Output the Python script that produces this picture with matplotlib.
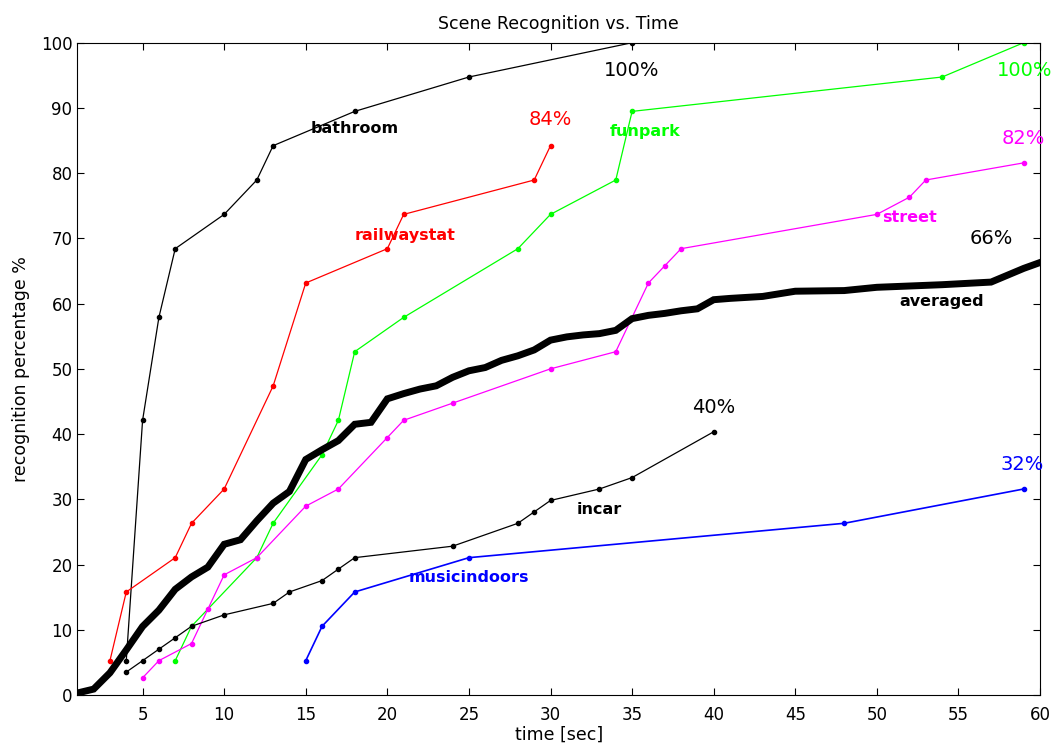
import matplotlib
matplotlib.use('Agg')
import matplotlib.pyplot as plt

plt.rcParams['font.family'] = ['DejaVu Sans']

# recognition percentage per scene class over listening time
bathroom_t = [4, 5, 6, 7, 10, 12, 13, 18, 25, 35]
bathroom_v = [5.26, 42.11, 57.89, 68.42, 73.68, 78.95, 84.21, 89.47, 94.74, 100.0]

railway_t = [3, 4, 7, 8, 10, 13, 15, 20, 21, 29, 30]
railway_v = [5.26, 15.79, 21.05, 26.32, 31.58, 47.37, 63.16, 68.42, 73.68, 78.95, 84.21]

funpark_t = [7, 8, 12, 13, 16, 17, 18, 21, 28, 30, 34, 35, 54, 59]
funpark_v = [5.26, 10.53, 21.05, 26.32, 36.84, 42.11, 52.63, 57.89, 68.42, 73.68,
             78.95, 89.47, 94.74, 100.0]

street_t = [5, 6, 8, 9, 10, 12, 15, 17, 20, 21, 24, 30, 34, 36, 37, 38, 50, 52, 53, 59]
street_v = [2.63, 5.26, 7.89, 13.16, 18.42, 21.05, 28.95, 31.58, 39.47, 42.11, 44.74,
            50.0, 52.63, 63.16, 65.79, 68.42, 73.68, 76.32, 78.95, 81.58]

incar_t = [4, 5, 6, 7, 8, 10, 13, 14, 16, 17, 18, 24, 28, 29, 30, 33, 35, 40]
incar_v = [3.51, 5.26, 7.02, 8.77, 10.53, 12.28, 14.04, 15.79, 17.54, 19.30, 21.05,
           22.81, 26.32, 28.07, 29.82, 31.58, 33.33, 40.35]

music_t = [15, 16, 18, 25, 48, 59]
music_v = [5.26, 10.53, 15.79, 21.05, 26.32, 31.58]

avg_t = [1, 2, 3, 4, 5, 6, 7, 8, 9, 10, 11, 12, 13, 14, 15, 16, 17, 18, 19, 20,
         21, 22, 23, 24, 25, 26, 27, 28, 29, 30, 31, 32, 33, 34, 35, 36, 37, 38, 39, 40,
         41, 43, 45, 48, 50, 54, 57, 59, 60]
avg_v = [0.3, 0.9, 3.4, 6.9, 10.5, 13.0, 16.2, 18.1, 19.6, 23.1, 23.8, 26.7, 29.4, 31.2,
         36.1, 37.6, 39.0, 41.5, 41.8, 45.4, 46.2, 46.9, 47.4, 48.7, 49.7, 50.2, 51.3,
         52.0, 52.9, 54.4, 54.9, 55.2, 55.4, 55.9, 57.7, 58.2, 58.5, 58.9, 59.2, 60.6,
         60.8, 61.1, 61.9, 62.0, 62.5, 62.9, 63.3, 65.4, 66.3]

fig = plt.figure(figsize=(10.62, 7.44), dpi=100)
ax = fig.add_axes([0.0728, 0.0659, 0.9065, 0.8767])

series = [
    (bathroom_t, bathroom_v, 'black', 0.9),
    (railway_t, railway_v, 'red', 0.9),
    (funpark_t, funpark_v, '#00ff00', 0.9),
    (street_t, street_v, 'magenta', 0.9),
    (incar_t, incar_v, 'black', 0.9),
    (music_t, music_v, 'blue', 1.2),
]
for t, v, c, lw in series:
    ax.plot(t, v, color=c, lw=lw, marker='o', ms=3, mec=c, mfc=c)

ax.plot(avg_t, avg_v, color='black', lw=5, solid_joinstyle='miter')

# class names
name_kw = dict(fontsize=11.5, fontweight='bold', ha='center', va='center')
ax.text(18.0, 86.8, 'bathroom', color='black', **name_kw)
ax.text(21.1, 70.4, 'railwaystat', color='red', **name_kw)
ax.text(35.8, 86.4, 'funpark', color='#00ff00', **name_kw)
ax.text(52.0, 73.2, 'street', color='magenta', **name_kw)
ax.text(54.0, 60.3, 'averaged', color='black', **name_kw)
ax.text(33.0, 28.4, 'incar', color='black', **name_kw)
ax.text(25.0, 18.0, 'musicindoors', color='blue', **name_kw)

# final recognition rates
pct_kw = dict(fontsize=14, ha='center', va='center')
ax.text(35.0, 95.7, '100%', color='black', **pct_kw)
ax.text(30.0, 88.2, '84%', color='red', **pct_kw)
ax.text(59.05, 95.7, '100%', color='#00ff00', **pct_kw)
ax.text(59.0, 85.3, '82%', color='magenta', **pct_kw)
ax.text(57.0, 70.0, '66%', color='black', **pct_kw)
ax.text(40.0, 44.0, '40%', color='black', **pct_kw)
ax.text(58.9, 35.3, '32%', color='blue', **pct_kw)

ax.set_xlim(1, 60)
ax.set_ylim(0, 100)
ax.set_xticks(range(5, 61, 5))
ax.set_yticks(range(0, 101, 10))
ax.tick_params(direction='in', top=True, right=True, length=5, width=0.8, labelsize=12)
ax.tick_params(axis='x', pad=8)
for s in ax.spines.values():
    s.set_linewidth(0.8)

ax.set_title('Scene Recognition vs. Time', fontsize=12.5, pad=10)
ax.set_xlabel('time [sec]', fontsize=12.5, labelpad=1)
ax.set_ylabel('recognition percentage %', fontsize=12.5, labelpad=8)

fig.savefig('out.png', dpi=100)
